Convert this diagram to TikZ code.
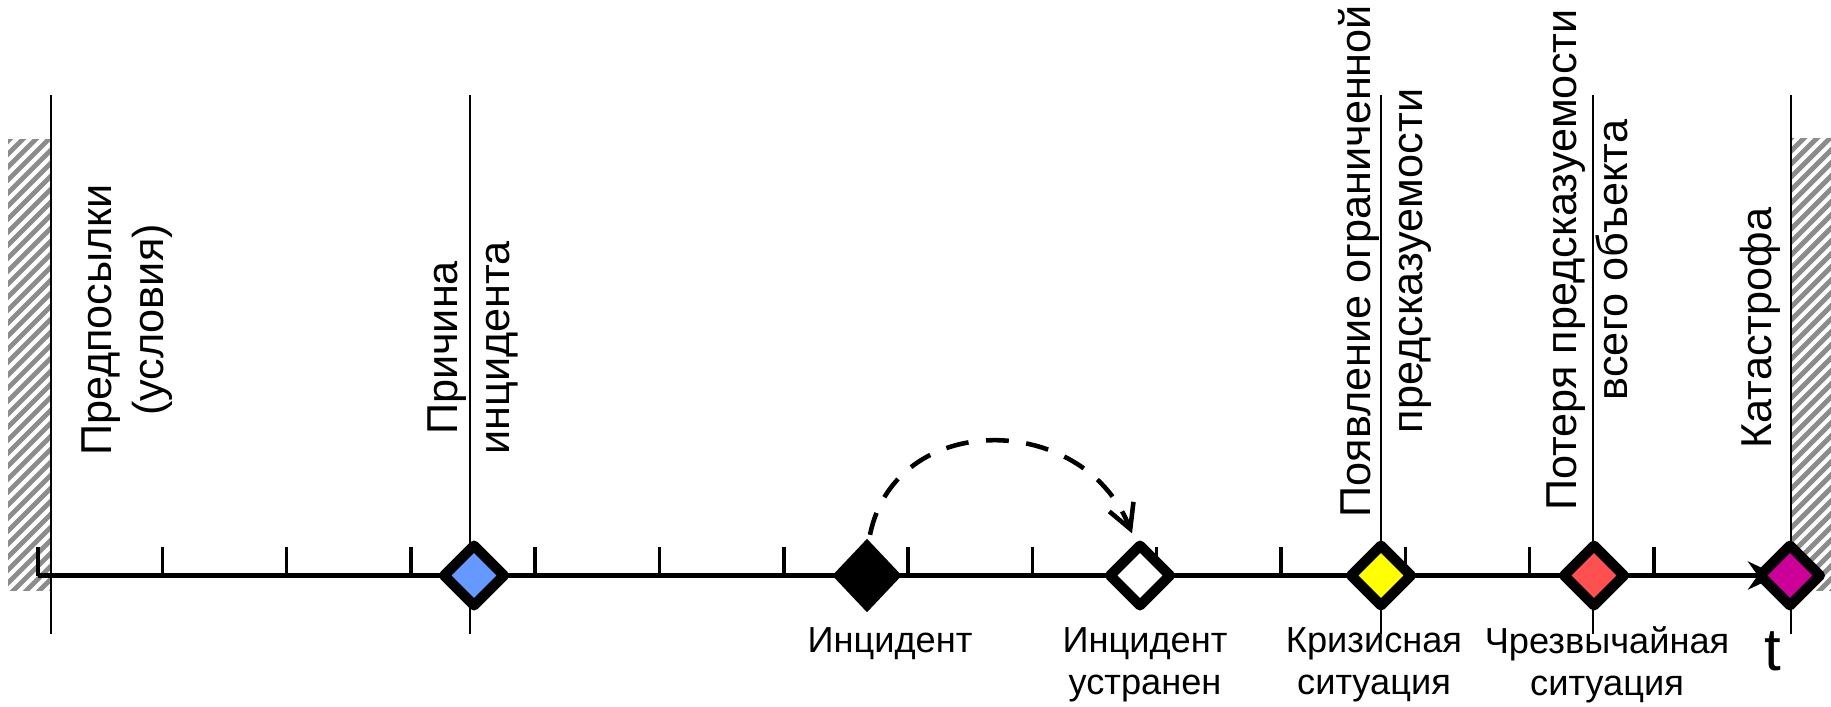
\documentclass[tikz,border=0pt]{standalone}
\usepackage{fontspec}
\setmainfont{Liberation Sans}
\usepackage{xcolor}
\usepackage{tikz}
\usetikzlibrary{arrows.meta,shapes.geometric,calc}

\definecolor{causeblue}{HTML}{6699FF}
\definecolor{crisisyellow}{HTML}{FFFF00}
\definecolor{emergred}{HTML}{FF5050}
\definecolor{catpurple}{HTML}{CC0099}

\begin{document}
\begin{tikzpicture}[
  event/.style={diamond, draw=black, line width=2.9pt, line join=round, inner sep=0pt, minimum size=0.64cm},
  vlabel/.style={rotate=90, align=center, font=\fontsize{12.3}{14.6}\selectfont},
  hlabel/.style={align=center, font=\fontsize{10.3}{11.9}\selectfont},
  marker/.style={line width=0.6pt},
  hatchline/.style={line width=1.4pt, black!45}
]
  \useasboundingbox (0,0) rectangle (18.31,7.06);

  % Hatched limits
  \begin{scope}
    \clip (0.08,1.16) rectangle (0.50,5.67);
    \foreach \k in {0,...,45}
      \draw[hatchline] (0,0.5+0.13*\k) -- ++(0.7,0.7);
  \end{scope}
  \begin{scope}
    \clip (17.92,1.16) rectangle (18.31,5.68);
    \foreach \k in {0,...,45}
      \draw[hatchline] (17.8,0.5+0.13*\k) -- ++(0.7,0.7);
  \end{scope}

  % Event lines
  \foreach \x in {0.51,4.70,13.81,15.93,17.91}
    \draw[marker] (\x,0.72) -- (\x,6.11);

  % Time axis
  \draw[line width=1.42pt, -{Stealth[length=0.3cm,width=0.28cm]}] (0.38,1.305) -- (17.78,1.305);
  \foreach \i in {0,...,13}
    \draw[line width=1pt] (0.38+1.243*\i,1.305) -- ++(0,0.285);

  % Events
  \node[event, fill=causeblue] (cause) at (4.74,1.305) {};
  \node[diamond, fill=black, inner sep=0pt, minimum width=0.70cm, minimum height=0.74cm] (incident) at (8.67,1.305) {};
  \node[event, fill=white] (fixed) at (11.40,1.305) {};
  \node[event, fill=crisisyellow] (crisis) at (13.81,1.305) {};
  \node[event, fill=emergred] (emerg) at (15.94,1.305) {};
  \node[event, fill=catpurple] (catastr) at (17.90,1.305) {};

  % Return after the incident
  \draw[line width=1.3pt, dash pattern=on 6.5pt off 5pt, -{Straight Barb[length=0.24cm,width=0.26cm]}]
    ($(incident.north)+(0.03,0.03)$) .. controls (8.95,2.96) and (10.83,2.96) .. ($(fixed.north)+(-0.08,0.05)$);

  % Upper labels
  \node[vlabel] (preclbl) at (1.27,3.86) {Предпосылки\\(условия)};
  \node[vlabel] (causelbl) at (4.73,3.58) {Причина\\инцидента};
  \node[vlabel] (crisislbl) at (13.85,4.45) {Появление ограниченной\\предсказуемости};
  \node[vlabel] (emerglbl) at (15.87,4.46) {Потеря предсказуемости\\всего объекта};
  \node[vlabel] (catlbl) at (17.60,3.78) {Катастрофа};

  % Lower labels
  \node[hlabel] (inclbl) at (8.90,0.622) {Инцидент};
  \node[hlabel] (fixlbl) at (11.45,0.41) {Инцидент\\устранен};
  \node[hlabel] (crislow) at (13.74,0.41) {Кризисная\\ситуация};
  \node[hlabel] (emerglow) at (16.07,0.41) {Чрезвычайная\\ситуация};
  \node[font=\fontsize{17.1}{20}\selectfont] (tlbl) at (17.73,0.55) {t};
\end{tikzpicture}
\end{document}
